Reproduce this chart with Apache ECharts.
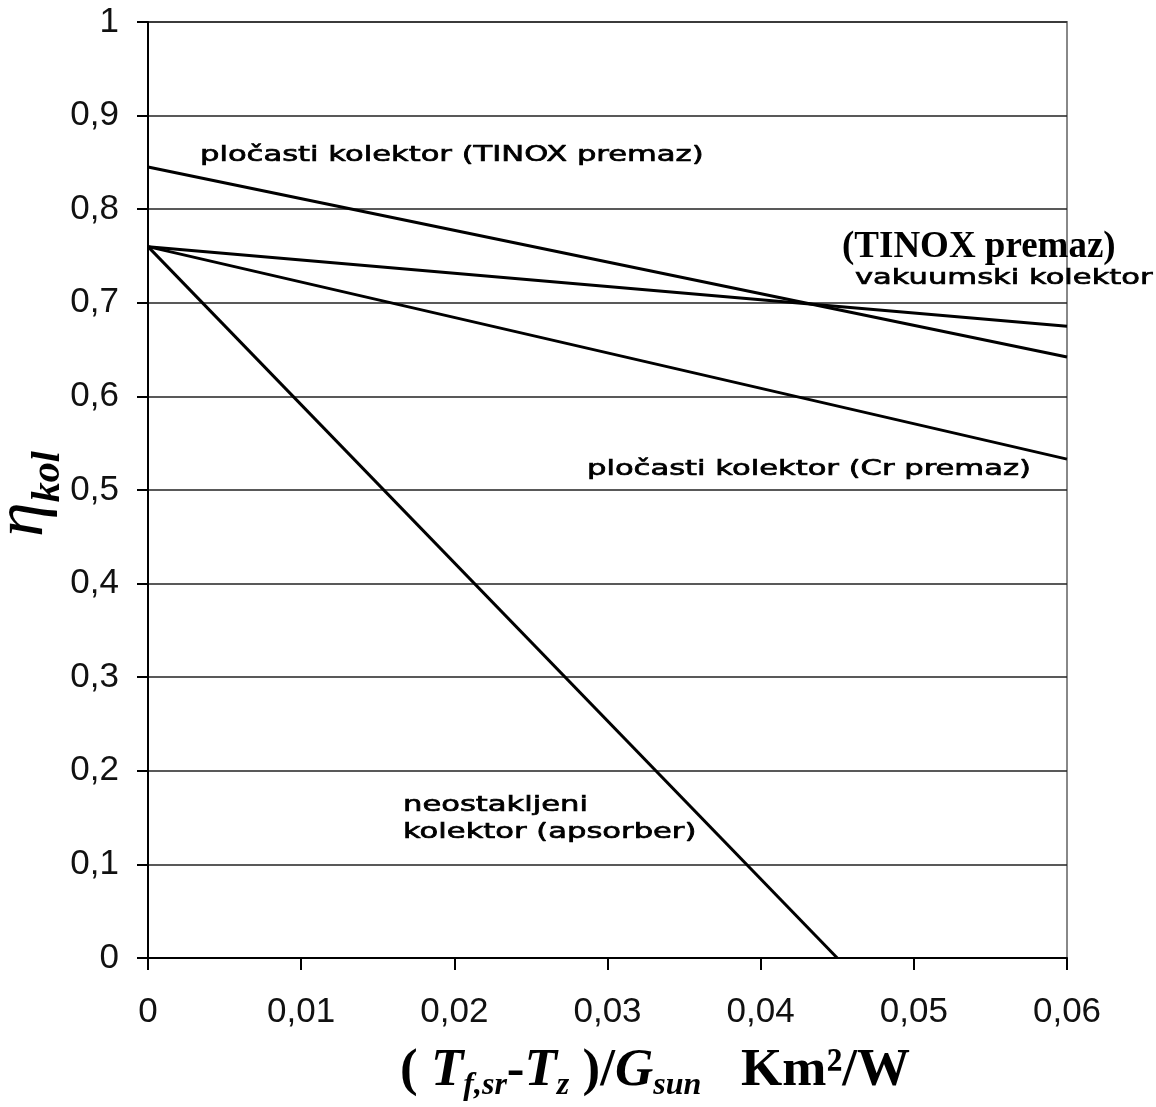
<!DOCTYPE html>
<html>
<head>
<meta charset="utf-8">
<title>Efikasnost kolektora</title>
<script src="https://cdn.jsdelivr.net/npm/echarts@6/dist/echarts.min.js"></script>
<style>
  html, body { margin: 0; padding: 0; background: #fff; }
  #chart { width: 1156px; height: 1107px; }
</style>
</head>
<body>
<div id="chart"></div>
<script>
// x = (Tf,sr - Tz)/Gsun, y = eta_kol
const xTinoxPlate = [0, 0.06];
const yTinoxPlate = [0.845, 0.642];
const xVacuum = [0, 0.06];
const yVacuum = [0.76, 0.675];
const xCrPlate = [0, 0.06];
const yCrPlate = [0.76, 0.533];
const xAbsorber = [0, 0.045];
const yAbsorber = [0.76, 0];

const seriesNames = ['pločasti kolektor (TINOX premaz)', 'vakuumski kolektor (TINOX premaz)',
  'pločasti kolektor (Cr premaz)', 'neostakljeni kolektor (apsorber)'];

function pairs(xs, ys) {
  return xs.map((x, i) => [x, ys[i]]);
}
function comma(v) {
  return String(+v.toFixed(2)).replace('.', ',');
}

let chartDom = document.getElementById('chart');
let myChart = echarts.init(chartDom);

const lineStyle = { color: '#000', width: 3 };
const stretch = 1.39; // tekst na slici je razvucen po sirini

// natpis uz krivulju
function note(text, x, y) {
  return {
    type: 'text', x: x, y: y, scaleX: stretch,
    style: { text: text, font: '22px "DejaVu Sans"', fill: '#000', stroke: '#000', lineWidth: 0.7, verticalAlign: 'middle' }
  };
}

let option = {
  animation: false,
  backgroundColor: '#fff',
  grid: {
    left: 148, right: 89, top: 22, bottom: 149,
    show: true, borderColor: '#888', borderWidth: 2
  },
  xAxis: {
    type: 'value',
    min: 0, max: 0.06, interval: 0.01,
    axisLine: { show: true, onZero: false, lineStyle: { color: '#000', width: 2 } },
    axisTick: { show: true, length: 12, lineStyle: { color: '#000', width: 2 } },
    axisLabel: { margin: 37, fontFamily: 'Liberation Sans', fontSize: 35, color: '#111', formatter: comma },
    splitLine: { show: false }
  },
  yAxis: {
    type: 'value',
    min: 0, max: 1, interval: 0.1,
    axisLine: { show: true, lineStyle: { color: '#000', width: 2 } },
    axisTick: { show: true, length: 11, lineStyle: { color: '#000', width: 2 } },
    axisLabel: { margin: 29, fontFamily: 'Liberation Sans', fontSize: 35, color: '#111', formatter: comma },
    splitLine: { show: true, lineStyle: { color: '#222', width: 1.5 } }
  },
  series: [
    { name: seriesNames[0], type: 'line', data: pairs(xTinoxPlate, yTinoxPlate), showSymbol: false, lineStyle: lineStyle },
    { name: seriesNames[1], type: 'line', data: pairs(xVacuum, yVacuum), showSymbol: false, lineStyle: lineStyle },
    { name: seriesNames[2], type: 'line', data: pairs(xCrPlate, yCrPlate), showSymbol: false, lineStyle: lineStyle },
    { name: seriesNames[3], type: 'line', data: pairs(xAbsorber, yAbsorber), showSymbol: false, lineStyle: lineStyle }
  ],
  graphic: [
    note('pločasti kolektor (TINOX premaz)', 200, 155),
    { type: 'text', x: 842, y: 247,
      style: { text: '(TINOX premaz)', font: 'bold 37px "Liberation Serif"', fill: '#000', verticalAlign: 'middle' } },
    note('vakuumski kolektor', 855, 278),
    note('pločasti kolektor (Cr premaz)', 587, 469),
    note('neostakljeni', 403, 805),
    note('kolektor (apsorber)', 403, 832),
    // os y: eta_kol
    { type: 'text', x: 24, y: 494, rotation: Math.PI / 2,
      style: {
        text: '{e|η}{s|kol}', align: 'center', verticalAlign: 'middle',
        rich: {
          e: { fontFamily: 'Liberation Serif', fontStyle: 'italic', fontSize: 70, lineHeight: 90, fill: '#000' },
          s: { fontFamily: 'Liberation Serif', fontStyle: 'italic', fontWeight: 'bold', fontSize: 40, lineHeight: 40, verticalAlign: 'bottom', fill: '#000' }
        }
      } },
    // os x
    { type: 'text', x: 655, y: 1071,
      style: {
        text: '{n|( }{i|T}{s|f,sr}{n|-}{i|T}{s|z}{n| )/}{i|G}{s|sun}{n|   Km²/W}',
        align: 'center', verticalAlign: 'middle',
        rich: {
          n: { fontFamily: 'Liberation Serif', fontWeight: 'bold', fontSize: 53, lineHeight: 62, fill: '#000' },
          i: { fontFamily: 'Liberation Serif', fontWeight: 'bold', fontStyle: 'italic', fontSize: 53, lineHeight: 62, fill: '#000' },
          s: { fontFamily: 'Liberation Serif', fontWeight: 'bold', fontStyle: 'italic', fontSize: 32, lineHeight: 32, verticalAlign: 'bottom', fill: '#000' }
        }
      } }
  ]
};

myChart.setOption(option);
</script>
</body>
</html>
